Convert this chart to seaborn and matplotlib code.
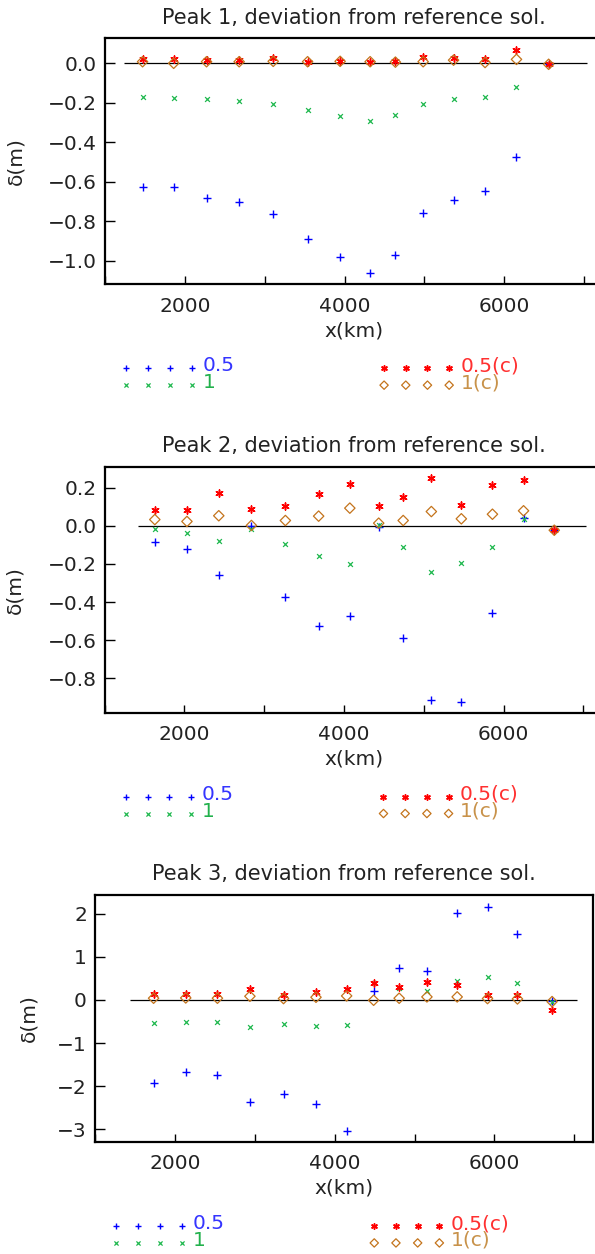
import numpy as np
import pandas as pd
import matplotlib
matplotlib.use("Agg")
import matplotlib.pyplot as plt
import matplotlib.transforms as mtransforms
import seaborn as sns

# ---------------------------------------------------------------- data
# station positions (km) for each peak
x_peak1 = [1467, 1857, 2269, 2678, 3105, 3536, 3944, 4320, 4637, 4985, 5366, 5761, 6155, 6558]
x_peak2 = [1628, 2031, 2430, 2839, 3265, 3682, 4073, 4435, 4742, 5095, 5471, 5861, 6251, 6636]
x_peak3 = [1730, 2133, 2530, 2937, 3358, 3765, 4149, 4487, 4807, 5155, 5534, 5914, 6289, 6723]

# deviation from reference solution (m): runs 0.5, 1, 0.5(c), 1(c)
p1_05 = [-0.628, -0.625, -0.682, -0.704, -0.763, -0.891, -0.981, -1.065, -0.974, -0.761, -0.692, -0.648, -0.473, -0.005]
p1_1 = [-0.172, -0.174, -0.182, -0.191, -0.206, -0.238, -0.268, -0.294, -0.263, -0.206, -0.179, -0.169, -0.122, -0.005]
p1_05c = [0.020, 0.024, 0.019, 0.017, 0.027, 0.008, 0.011, 0.006, 0.010, 0.034, 0.029, 0.024, 0.069, -0.005]
p1_1c = [0.008, 0.000, 0.008, 0.008, 0.010, 0.008, 0.010, 0.008, 0.006, 0.008, 0.016, 0.004, 0.020, -0.005]

p2_05 = [-0.084, -0.124, -0.257, 0.000, -0.375, -0.527, -0.474, -0.004, -0.590, -0.917, -0.924, -0.460, 0.039, -0.023]
p2_1 = [-0.018, -0.037, -0.079, -0.018, -0.096, -0.161, -0.198, 0.004, -0.112, -0.242, -0.196, -0.110, 0.037, -0.023]
p2_05c = [0.082, 0.084, 0.172, 0.086, 0.105, 0.168, 0.222, 0.102, 0.152, 0.252, 0.109, 0.214, 0.240, -0.023]
p2_1c = [0.033, 0.023, 0.053, 0.002, 0.028, 0.051, 0.093, 0.014, 0.028, 0.075, 0.037, 0.061, 0.079, -0.023]

p3_05 = [-1.933, -1.678, -1.740, -2.359, -2.181, -2.405, -3.032, 0.217, 0.750, 0.673, 2.011, 2.166, 1.539, -0.030]
p3_1 = [-0.541, -0.518, -0.510, -0.619, -0.549, -0.603, -0.580, 0.387, 0.286, 0.209, 0.433, 0.526, 0.394, -0.039]
p3_05c = [0.139, 0.147, 0.131, 0.247, 0.108, 0.186, 0.255, 0.387, 0.294, 0.418, 0.356, 0.108, 0.116, -0.224]
p3_1c = [0.039, 0.046, 0.039, 0.085, 0.031, 0.062, 0.093, -0.008, 0.039, 0.070, 0.070, 0.031, 0.023, -0.039]

run_labels = ["0.5", "1", "0.5(c)", "1(c)"]
titles = ["Peak 1, deviation from reference sol.",
          "Peak 2, deviation from reference sol.",
          "Peak 3, deviation from reference sol."]
x_tick_values = [1000, 2000, 3000, 4000, 5000, 6000, 7000]
x_tick_labels = ["", "2000", "", "4000", "", "6000", ""]
y_ticks_p1 = [0.0, -0.2, -0.4, -0.6, -0.8, -1.0]
y_ticks_p2 = [0.2, 0.0, -0.2, -0.4, -0.6, -0.8]
y_ticks_p3 = [2, 1, 0, -1, -2, -3]

# ---------------------------------------------------------------- style
sns.set_style("white")
plt.rcParams["font.family"] = ["DejaVu Sans"]
plt.rcParams["axes.unicode_minus"] = True

colors = {"0.5": "#0000ff", "1": "#1fb84e", "0.5(c)": "#ff0000", "1(c)": "#c4741c"}
text_colors = {"0.5": "#3535ff", "1": "#22b14c", "0.5(c)": "#ff3030", "1(c)": "#c8924a"}
ink = "#222222"
FS = 14.5

asterisk = (6, 2, 0)
# marker style per run: (marker, size in plot, size in key, line width)
marker_spec = {"0.5": ("+", 26, 19, 1.0),
               "1": ("x", 12, 9, 0.9),
               "0.5(c)": (asterisk, 26, 16, 1.1),
               "1(c)": ("D", 28, 18, 0.9)}

fig = plt.figure(figsize=(5.95, 12.54), dpi=100)

panels = [
    dict(x=x_peak1, ys=[p1_05, p1_1, p1_05c, p1_1c], ylim=(-1.12, 0.127),
         yticks=y_ticks_p1, fmt="{:.1f}", rect=[0.177, 0.7733, 0.8365, 0.1962],
         zero=(1228, 7040), ylab_x=-0.161),
    dict(x=x_peak2, ys=[p2_05, p2_1, p2_05c, p2_1c], ylim=(-0.981, 0.311),
         yticks=y_ticks_p2, fmt="{:.1f}", rect=[0.176, 0.4317, 0.8365, 0.1962],
         zero=(1420, 7040), ylab_x=-0.161),
    dict(x=x_peak3, ys=[p3_05, p3_1, p3_05c, p3_1c], ylim=(-3.288, 2.443),
         yticks=y_ticks_p3, fmt="{:d}", rect=[0.1602, 0.0896, 0.837, 0.197],
         zero=(1430, 7030), ylab_x=-0.115),
]


def draw_run(ax, xs, ys, lab, size, **extra):
    mk, _, _, lw = marker_spec[lab]
    if mk == "D":
        ax.scatter(xs, ys, marker=mk, s=size, facecolors="none",
                   edgecolors=colors[lab], linewidths=lw, **extra)
    else:
        ax.scatter(xs, ys, marker=mk, s=size, color=colors[lab],
                   linewidths=lw, **extra)


for i, p in enumerate(panels):
    ax = fig.add_axes(p["rect"])
    ax.set_xlim(1228, 7240)
    ax.set_ylim(*p["ylim"])

    # reference zero line
    ax.hlines(0, p["zero"][0], p["zero"][1], color="black", lw=0.9, zorder=1)

    df = pd.DataFrame({"x": p["x"], "0.5": p["ys"][0], "1": p["ys"][1],
                       "0.5(c)": p["ys"][2], "1(c)": p["ys"][3]})

    for k, lab in enumerate(run_labels):
        mk, s_plot, _, lw = marker_spec[lab]
        if mk == "D":
            sns.scatterplot(data=df, x="x", y=lab, marker=mk, facecolors="none",
                            edgecolors=colors[lab], s=s_plot, linewidths=lw,
                            ax=ax, zorder=3 + k)
        else:
            sns.scatterplot(data=df, x="x", y=lab, marker=mk, color=colors[lab],
                            s=s_plot, linewidth=lw, ax=ax, zorder=3 + k)

    # axes frame and ticks
    for sp in ax.spines.values():
        sp.set_color("black")
        sp.set_linewidth(1.6)
    ax.set_xticks(x_tick_values)
    ax.set_xticklabels(x_tick_labels)
    ax.set_yticks(p["yticks"])
    ax.set_yticklabels([p["fmt"].format(v).replace("-", "\u2212") for v in p["yticks"]])
    ax.tick_params(axis="x", direction="in", length=6, width=1.0, pad=9,
                   labelsize=FS, bottom=True, top=False, colors="black", labelcolor=ink)
    ax.tick_params(axis="y", direction="in", length=7, width=1.0, pad=6,
                   labelsize=FS, left=True, right=False, colors="black", labelcolor=ink)

    ax.set_xlabel("x(km)", fontsize=FS, color=ink, labelpad=4)
    ax.set_ylabel("\u03b4(m)", fontsize=FS, color=ink)
    ax.yaxis.set_label_coords(p["ylab_x"], 0.5)
    ax.text(0.5, 1.082, titles[i], transform=ax.transAxes, ha="center", va="center",
            fontsize=15, color=ink)

    # run key below the panel (x in km, y in axes fraction)
    tr = mtransforms.blended_transform_factory(ax.transData, ax.transAxes)
    key_rows = {"0.5": (1265, -0.342), "1": (1265, -0.410),
                "0.5(c)": (4495, -0.342), "1(c)": (4495, -0.410)}
    for lab in run_labels:
        x0, yy = key_rows[lab]
        xs = [x0 + 272 * k for k in range(4)]
        draw_run(ax, xs, [yy] * 4, lab, marker_spec[lab][2],
                 transform=tr, clip_on=False)
        ax.text(x0 + 272 * 3 + 140, yy + 0.010, lab, transform=tr, ha="left",
                va="center", fontsize=FS, color=text_colors[lab])

fig.savefig("out.png", dpi=100)
